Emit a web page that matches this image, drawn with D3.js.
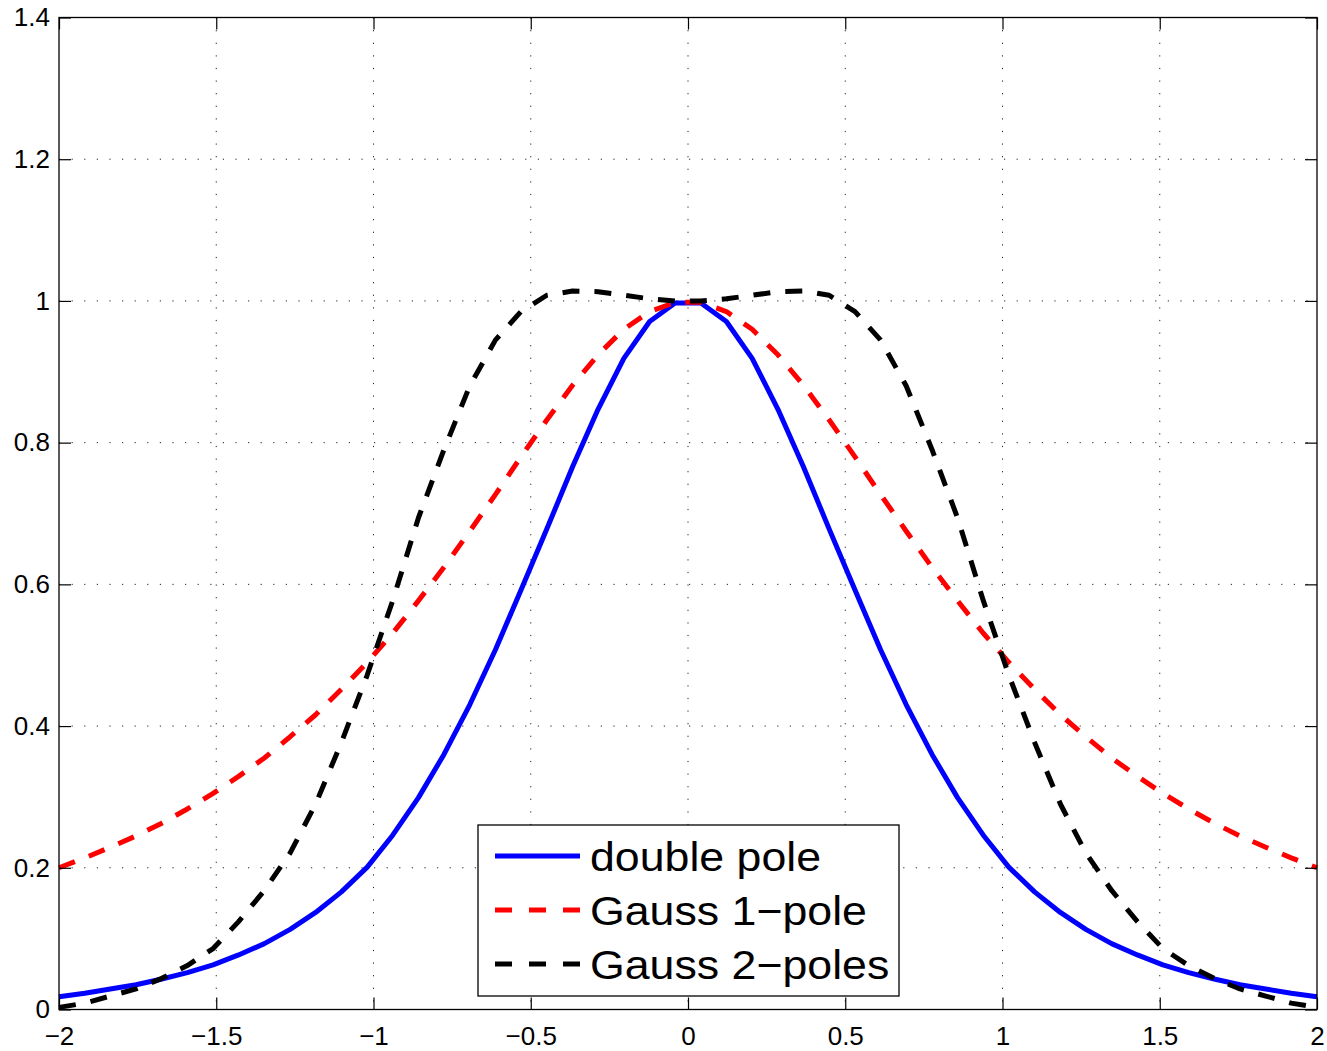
<!DOCTYPE html>
<html>
<head>
<meta charset="utf-8">
<script src="https://cdn.jsdelivr.net/npm/d3@7"></script>
<style>
  html, body { margin: 0; padding: 0; background: #fff; }
  svg { display: block; }
  text { font-family: "Liberation Sans", Arial, Helvetica, sans-serif; fill: #000; }
</style>
</head>
<body>
<svg id="chart" width="1327" height="1051"></svg>
<script>
// Sample abscissae (50 evenly spaced points on [-2, 2])
const xs = [
  -2.000, -1.918, -1.837, -1.755, -1.673, -1.592, -1.510, -1.429, -1.347, -1.265,
  -1.184, -1.102, -1.020, -0.939, -0.857, -0.776, -0.694, -0.612, -0.531, -0.449,
  -0.367, -0.286, -0.204, -0.122, -0.041,  0.041,  0.122,  0.204,  0.286,  0.367,
   0.449,  0.531,  0.612,  0.694,  0.776,  0.857,  0.939,  1.020,  1.102,  1.184,
   1.265,  1.347,  1.429,  1.510,  1.592,  1.673,  1.755,  1.837,  1.918,  2.000
];

// double pole
const doublePole = [
  0.018, 0.023, 0.029, 0.035, 0.043, 0.052, 0.063, 0.077, 0.093, 0.113,
  0.137, 0.166, 0.201, 0.246, 0.299, 0.360, 0.430, 0.508, 0.592, 0.678,
  0.766, 0.847, 0.919, 0.971, 0.997, 0.997, 0.971, 0.919, 0.847, 0.766,
  0.678, 0.592, 0.508, 0.430, 0.360, 0.299, 0.246, 0.201, 0.166, 0.137,
  0.113, 0.093, 0.077, 0.063, 0.052, 0.043, 0.035, 0.029, 0.023, 0.018
];

// Gauss 1-pole
const gauss1 = [
  0.200, 0.214, 0.229, 0.245, 0.263, 0.283, 0.305, 0.329, 0.355, 0.385,
  0.416, 0.452, 0.490, 0.531, 0.577, 0.624, 0.675, 0.727, 0.780, 0.832,
  0.881, 0.924, 0.960, 0.985, 0.998, 0.998, 0.985, 0.960, 0.924, 0.881,
  0.832, 0.780, 0.727, 0.675, 0.624, 0.577, 0.531, 0.490, 0.452, 0.416,
  0.385, 0.355, 0.329, 0.305, 0.283, 0.263, 0.245, 0.229, 0.214, 0.200
];

// Gauss 2-poles
const gauss2 = [
  0.003, 0.009, 0.019, 0.029, 0.044, 0.062, 0.086, 0.124, 0.168, 0.221,
  0.290, 0.377, 0.472, 0.577, 0.694, 0.790, 0.880, 0.945, 0.985, 1.008,
  1.014, 1.013, 1.008, 1.003, 1.000, 1.000, 1.003, 1.008, 1.013, 1.014,
  1.008, 0.985, 0.945, 0.880, 0.790, 0.694, 0.577, 0.472, 0.377, 0.290,
  0.221, 0.168, 0.124, 0.086, 0.062, 0.044, 0.029, 0.019, 0.009, 0.003
];

const xTicks = [-2, -1.5, -1, -0.5, 0, 0.5, 1, 1.5, 2];
const yTicks = [0, 0.2, 0.4, 0.6, 0.8, 1, 1.2, 1.4];
const seriesNames = ["double pole", "Gauss 1\u2212pole", "Gauss 2\u2212poles"];

const margin = { left: 59, top: 17.5, right: 10, bottom: 41.5 };
const W = 1327, H = 1051;
const plotW = W - margin.left - margin.right;   // 1258
const plotH = H - margin.top - margin.bottom;   // 992

const svg = d3.select("#chart");
const g = svg.append("g").attr("transform", `translate(${margin.left},${margin.top})`);

const x = d3.scaleLinear().domain([-2, 2]).range([0, plotW]);
const y = d3.scaleLinear().domain([0, 1.4]).range([plotH, 0]);

// dotted grid
const grid = g.append("g").attr("class", "grid")
  .attr("stroke", "#222").attr("stroke-width", 1).attr("stroke-dasharray", "1.2,11.4");
grid.selectAll("line.v").data(xTicks.slice(1, -1)).join("line")
  .attr("class", "v")
  .attr("x1", d => x(d)).attr("x2", d => x(d))
  .attr("y1", 0).attr("y2", plotH);
grid.selectAll("line.h").data(yTicks.slice(1, -1)).join("line")
  .attr("class", "h")
  .attr("x1", 0).attr("x2", plotW)
  .attr("y1", d => y(d)).attr("y2", d => y(d));

// curves
const line = d3.line().x((d, i) => x(xs[i])).y(d => y(d));
const styles = [
  { data: doublePole, color: "#0000ff", dash: null },
  { data: gauss1, color: "#ff0000", dash: "17,15" },
  { data: gauss2, color: "#000000", dash: "17,15" }
];
styles.forEach(s => {
  g.append("path")
    .datum(s.data)
    .attr("fill", "none")
    .attr("stroke", s.color)
    .attr("stroke-width", 5)
    .attr("stroke-linejoin", "round")
    .attr("stroke-dasharray", s.dash)
    .attr("d", line);
});

// axes with inward ticks on all four sides
const fmt = d3.format("");
const tickLen = 12;
const axB = g.append("g").attr("transform", `translate(0,${plotH})`)
  .call(d3.axisBottom(x).tickValues(xTicks).tickFormat(fmt).tickSizeInner(-tickLen).tickSizeOuter(0).tickPadding(17));
const axT = g.append("g")
  .call(d3.axisTop(x).tickValues(xTicks).tickFormat("").tickSizeInner(-tickLen).tickSizeOuter(0));
const axL = g.append("g")
  .call(d3.axisLeft(y).tickValues(yTicks).tickFormat(fmt).tickSizeInner(-tickLen).tickSizeOuter(0).tickPadding(9));
const axR = g.append("g").attr("transform", `translate(${plotW},0)`)
  .call(d3.axisRight(y).tickValues(yTicks).tickFormat("").tickSizeInner(-tickLen).tickSizeOuter(0));

[axB, axT, axL, axR].forEach(a => {
  a.select(".domain").remove();
  a.selectAll(".tick line").attr("stroke", "#000").attr("stroke-width", 1.2);
  a.selectAll("text").attr("font-size", 26).attr("font-family", "'Liberation Sans', Arial, sans-serif").attr("fill", "#000");
});

// plot frame
g.append("rect")
  .attr("x", 0).attr("y", 0).attr("width", plotW).attr("height", plotH)
  .attr("fill", "none").attr("stroke", "#000").attr("stroke-width", 1.3);

// legend
const leg = svg.append("g").attr("transform", "translate(478,825)");
leg.append("rect")
  .attr("width", 421).attr("height", 171)
  .attr("fill", "#fff").attr("stroke", "#000").attr("stroke-width", 1.3);
const rowY = [31, 85, 139];
styles.forEach((s, i) => {
  leg.append("line")
    .attr("x1", 17).attr("x2", 102)
    .attr("y1", rowY[i]).attr("y2", rowY[i])
    .attr("stroke", s.color).attr("stroke-width", 5)
    .attr("stroke-dasharray", s.dash ? "17,17" : null);
  leg.append("text")
    .attr("transform", `translate(112,${rowY[i]}) scale(1.09,1)`)
    .attr("dy", "0.36em")
    .attr("font-size", 41)
    .text(seriesNames[i]);
});
</script>
</body>
</html>
